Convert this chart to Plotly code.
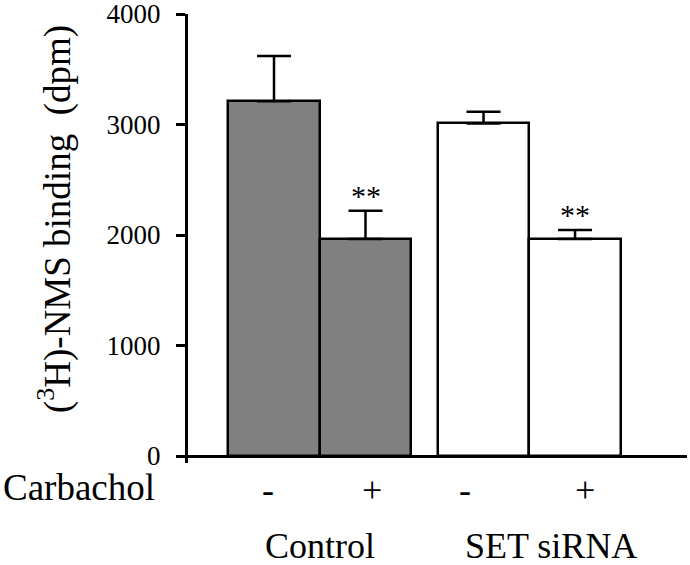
import plotly.graph_objects as go

# ---- data ----
groups = ["Control", "SET siRNA"]
carbachol = ["-", "+"]
values = [[3210, 1965], [3010, 1965]]
errors = [[410, 255], [105, 80]]
significance = [["", "**"], ["", "**"]]
yticks = [0, 1000, 2000, 3000, 4000]

fills = ["#808080", "#ffffff"]
group_step = 2.29
sign_shift = [[-6, 6], [-19, 10]]
group_shift = [0, 22]

FONT = "Liberation Serif"

W, H = 690, 565
ml, mr, mt, mb = 188, 3, 14, 102
pw = W - ml - mr
ph = H - mt - mb

fig = go.Figure()
annotations = []
for g, gname in enumerate(groups):
    xs = [g * group_step + i for i in range(len(carbachol))]
    fig.add_trace(go.Bar(
        x=xs, y=values[g], width=1.0,
        marker=dict(color=fills[g], line=dict(color="black", width=2.5)),
        error_y=dict(type="data", symmetric=False, array=errors[g],
                     arrayminus=[0] * len(xs), color="black",
                     thickness=2.5, width=17),
        showlegend=False, hoverinfo="skip",
    ))
    for i, x in enumerate(xs):
        annotations.append(dict(
            x=x, y=0, xref="x", yref="paper", text=carbachol[i],
            showarrow=False, yanchor="middle", yshift=-27,
            xshift=sign_shift[g][i],
            font=dict(family=FONT, size=36, color="black")))
        if significance[g][i]:
            annotations.append(dict(
                x=x, y=values[g][i] + errors[g][i], xref="x", yref="y",
                text=significance[g][i], showarrow=False,
                yanchor="bottom", yshift=-3,
                font=dict(family=FONT, size=30, color="black")))
    annotations.append(dict(
        x=(xs[0] + xs[-1]) / 2, y=0, xref="x", yref="paper", text=gname,
        showarrow=False, yanchor="middle", yshift=-83, xshift=group_shift[g],
        font=dict(family=FONT, size=36, color="black")))

annotations.append(dict(
    x=(1 - ml) / pw, y=0, xref="paper", yref="paper", text="Carbachol",
    showarrow=False, xanchor="left", yanchor="middle", yshift=-24,
    font=dict(family=FONT, size=37, color="black")))
annotations.append(dict(
    x=(55 - ml) / pw, y=(H - mb - 219) / ph, xref="paper", yref="paper",
    text="(<sup>3</sup>H)-NMS binding  (dpm)", textangle=-90,
    showarrow=False, xanchor="center", yanchor="middle",
    font=dict(family=FONT, size=37, color="black")))

px_per_unit = 91.5
x_left = -(274 - ml) / px_per_unit
x_right = x_left + pw / px_per_unit

fig.update_layout(
    width=W, height=H,
    margin=dict(l=ml, r=mr, t=mt, b=mb, autoexpand=False),
    plot_bgcolor="white", paper_bgcolor="white",
    font=dict(family=FONT),
    bargap=0,
    annotations=annotations,
    xaxis=dict(range=[x_left, x_right], showgrid=False, zeroline=False,
               showline=False, showticklabels=False, ticks="",
               automargin=False),
    yaxis=dict(range=[-63, 4000], tickvals=yticks,
               ticktext=[str(v) for v in yticks],
               showgrid=False, showline=True, linewidth=3, linecolor="black",
               zeroline=True, zerolinewidth=3, zerolinecolor="black",
               ticks="outside", ticklen=9, tickwidth=2.5, tickcolor="black",
               ticklabelstandoff=10, automargin=False,
               ticklabeloverflow="allow",
               tickfont=dict(family=FONT, size=27, color="black")),
)

fig.write_html("out.html", config={"displayModeBar": False},
               post_script="document.body.style.margin='0';")
